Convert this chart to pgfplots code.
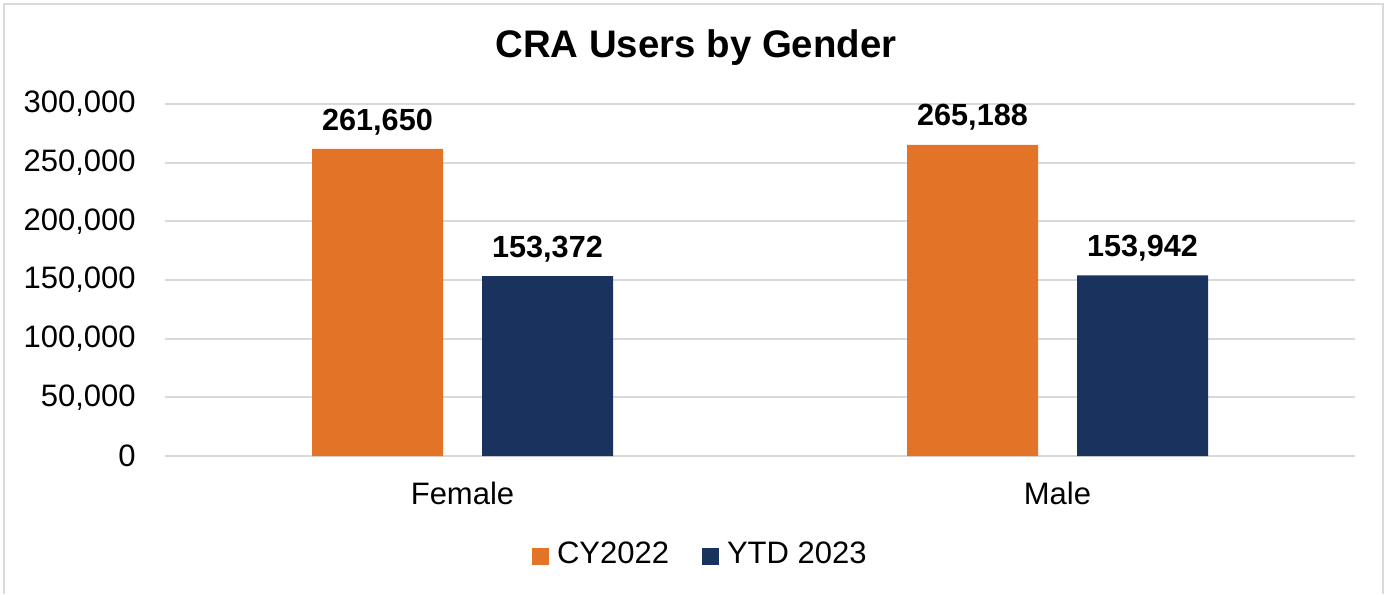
\documentclass[border=0pt]{standalone}
\usepackage{pgfplots}
\pgfplotsset{compat=1.18}
\usepackage{fontspec}
\setmainfont{Liberation Sans}
\definecolor{cyor}{RGB}{227,115,39}
\definecolor{ytdnavy}{RGB}{26,50,94}
\definecolor{gridgray}{RGB}{217,217,217}
\begin{document}
\begin{tikzpicture}
\useasboundingbox (0,0) rectangle (692.5pt,297pt);
\fill[white] (0,0) rectangle (692.5pt,297pt);
\draw[gridgray, line width=0.75pt] (2pt,0pt) -- (2pt,295pt) -- (691.5pt,295pt) -- (691.5pt,0pt);
\node[font=\fontsize{19.2pt}{23pt}\selectfont\bfseries, inner sep=0pt] at (348pt,273pt) {CRA Users by Gender};
\begin{axis}[
  at={(82.5pt,69pt)}, anchor=south west,
  scale only axis, width=595pt, height=176pt,
  xmin=-0.5, xmax=1.5, ymin=0, ymax=300000,
  enlargelimits=false,
  xtick={0,1}, xticklabels={Female,Male},
  ytick={0,50000,100000,150000,200000,250000,300000},
  scaled y ticks=false,
  /pgf/number format/assume math mode=true,
  /pgf/number format/fixed,
  /pgf/number format/1000 sep={,},
  tick label style={font=\fontsize{15.5pt}{18pt}\selectfont},
  yticklabel style={inner sep=0pt, xshift=-14.5pt},
  xticklabel style={inner sep=0pt, anchor=north, yshift=-13pt},
  major tick length=0pt,
  tick style={draw=none},
  ymajorgrids, grid style={gridgray, line width=0.9pt},
  separate axis lines,
  axis x line*=bottom, axis y line*=left,
  y axis line style={draw=none},
  x axis line style={draw=gridgray, line width=1pt},
  ybar, bar width=65.5pt,
  nodes near coords,
  nodes near coords style={font=\fontsize{15.3pt}{18pt}\selectfont\bfseries, anchor=base, inner sep=0pt, yshift=9.5pt},
  legend columns=2,
  legend style={at={(0.449,-0.278)}, anchor=center, draw=none, fill=none,
    font=\fontsize{15.5pt}{18pt}\selectfont, inner sep=0pt,
    /tikz/every even column/.append style={column sep=16.5pt},
    nodes={inner sep=0pt, anchor=base west}},
  legend image code/.code={\fill[#1] (0pt,-1pt) rectangle (8.5pt,7.5pt);},
]
\addplot[fill=cyor, draw=none, bar shift=-42.5pt] coordinates {(0,261650) (1,265188)};
\addplot[fill=ytdnavy, draw=none, bar shift=42.5pt] coordinates {(0,153372) (1,153942)};
\legend{\hspace{4pt}CY2022,\hspace{4pt}YTD 2023}
\end{axis}
\end{tikzpicture}
\end{document}
